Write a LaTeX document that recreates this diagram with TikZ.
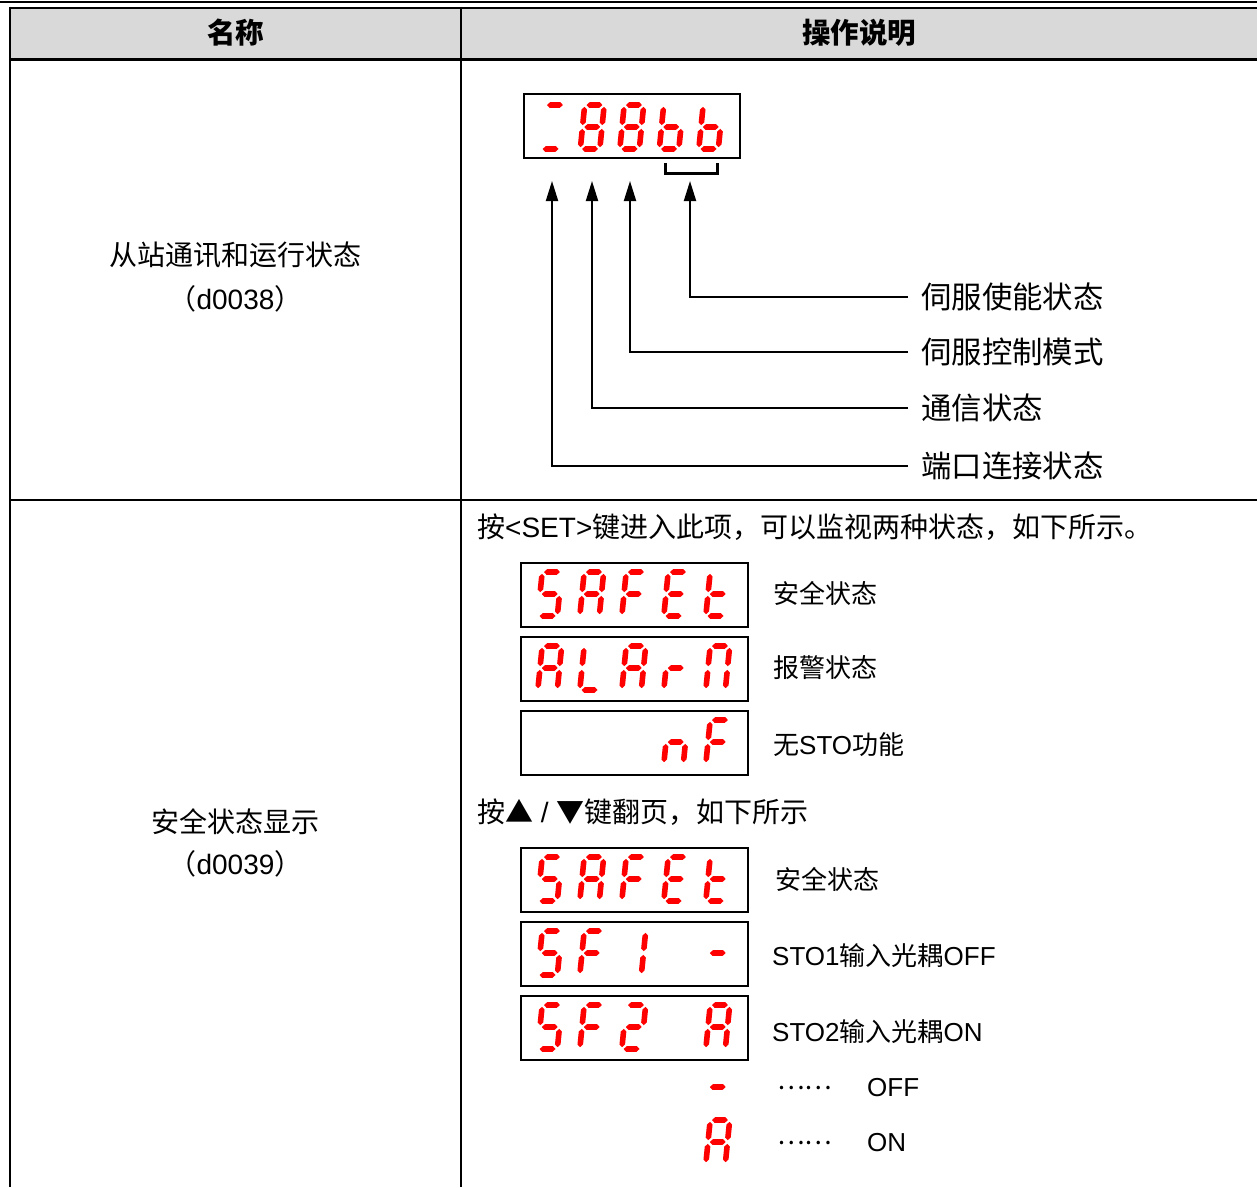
\documentclass[tikz,border=0pt]{standalone}
\usepackage{fontspec}
\setmainfont{Liberation Sans}
\newfontfamily\cjk{Noto Sans CJK SC}
\newfontfamily\lat{Liberation Sans}
\usepackage{tikz}
\usetikzlibrary{arrows.meta}
\definecolor{headgray}{HTML}{D9D9D9}
\newcommand{\segcolor}{red}
\newcommand{\segw}{19.5}
\newcommand{\segh}{22}
\newcommand{\seggap}{1.8}
\newcommand{\segthk}{2.8}
\newcommand{\segslant}{0.1}
\newcommand{\hseg}[3]{\fill[\segcolor] (#1+\seggap,#3) -- (#1+\seggap+\segthk,#3-\segthk) -- (#2-\seggap-\segthk,#3-\segthk) -- (#2-\seggap,#3) -- (#2-\seggap-\segthk,#3+\segthk) -- (#1+\seggap+\segthk,#3+\segthk) -- cycle;}
\newcommand{\vseg}[3]{\fill[\segcolor] (#1,#2+\seggap) -- (#1+\segthk,#2+\seggap+\segthk) -- (#1+\segthk,#3-\seggap-\segthk) -- (#1,#3-\seggap) -- (#1-\segthk,#3-\seggap-\segthk) -- (#1-\segthk,#2+\seggap+\segthk) -- cycle;}
\newcommand{\sega}{\hseg{0}{\segw}{-\segh}}
\newcommand{\segb}{\vseg{\segw}{-\segh}{0}}
\newcommand{\segc}{\vseg{\segw}{0}{\segh}}
\newcommand{\segd}{\hseg{0}{\segw}{\segh}}
\newcommand{\sege}{\vseg{0}{0}{\segh}}
\newcommand{\segf}{\vseg{0}{-\segh}{0}}
\newcommand{\segg}{\hseg{0}{\segw}{0}}
\newcommand{\digit}[3]{\begin{scope}[shift={(#1,#2)},xslant=\segslant]\foreach \s in {#3}{\csname seg\s\endcsname}\end{scope}}
\tikzset{
  headtxt/.style={font=\cjk\bfseries\fontsize{28.5pt}{32pt}\selectfont},
  nametxt/.style={font=\cjk\fontsize{28pt}{32pt}\selectfont},
  stattxt/.style={font=\cjk\fontsize{30.4pt}{34pt}\selectfont, anchor=west, inner xsep=13pt, inner ysep=0pt},
  bodytxt/.style={font=\cjk\fontsize{26pt}{30pt}\selectfont, anchor=west, inner sep=0pt},
  hinttxt/.style={font=\cjk\fontsize{28pt}{32pt}\selectfont, anchor=west, inner sep=0pt},
  disp/.style={draw, line width=2pt, minimum width=227pt, minimum height=64pt, inner sep=0pt},
  arr/.style={line width=2pt, -{Triangle[length=20pt,width=12pt]}},
  bracket/.style={line width=3pt}
}

\begin{document}
\begin{tikzpicture}[x=1pt,y=-1pt]
\useasboundingbox (0,0) rectangle (1257,1187);
%table
\fill[headgray] (10,7.5) rectangle (1257,59.5);
\draw[line width=2.5pt] (0,2) -- (1257,2);
\draw[line width=2pt] (10,7.5) -- (1257,7.5);
\draw[line width=2.5pt] (10,59.5) -- (1257,59.5);
\draw[line width=2pt] (10,500) -- (1257,500);
\draw[line width=2pt] (10,6.5) -- (10,1187);
\draw[line width=2pt] (461,6.5) -- (461,1187);
\node[headtxt] (hname) at (235.5,33) {名称};
\node[headtxt] (hop) at (859,33) {操作说明};
%d0038
\node[nametxt] (name1) at (235.5,255) {从站通讯和运行状态};
\node[nametxt] (code1) at (235.5,299) {（{\lat d0038}）};
\node[disp, minimum width=216pt] (panel) at (632,126) {};
\digit{543}{127}{a,d}
\digit{582.5}{127}{a,b,c,d,e,f,g}
\digit{622}{127}{a,b,c,d,e,f,g}
\digit{661.5}{127}{c,d,e,f,g}
\digit{701}{127}{c,d,e,f,g}
\coordinate (brl) at (665,163);
\coordinate (brr) at (717,163);
\draw[bracket] (brl) -- ++(0,10) -| (brr);
\coordinate (tip1) at (552,181);
\coordinate (tip2) at (592,181);
\coordinate (tip3) at (630,181);
\coordinate (tip4) at (690,181);
\node[stattxt] (stat1) at (908,297) {伺服使能状态};
\node[stattxt] (stat2) at (908,352) {伺服控制模式};
\node[stattxt] (stat3) at (908,408) {通信状态};
\node[stattxt] (stat4) at (908,466) {端口连接状态};
\draw[arr] (stat1.west) -| (tip4);
\draw[arr] (stat2.west) -| (tip3);
\draw[arr] (stat3.west) -| (tip2);
\draw[arr] (stat4.west) -| (tip1);
%d0039
\node[nametxt] (name2) at (235.5,822) {安全状态显示};
\node[nametxt] (code2) at (235.5,864) {（{\lat d0039}）};
\node[hinttxt] (hint1) at (477,527) {按{\lat <SET>}键进入此项，可以监视两种状态，如下所示。};
\node[disp] (safe1) at (634.5,595) {};
\node[disp] (alarm) at (634.5,669) {};
\node[disp] (nosto) at (634.5,743) {};
\digit{540}{594}{a,f,g,c,d}
\digit{582}{594}{a,b,c,e,f,g}
\digit{624}{594}{a,e,f,g}
\digit{666}{594}{a,d,e,f,g}
\digit{708}{594}{d,e,f,g}
\digit{540}{668}{a,b,c,e,f,g}
\digit{582}{668}{d,e,f}
\digit{624}{668}{a,b,c,e,f,g}
\digit{666}{668}{e,g}
\digit{708}{668}{a,b,c,e,f}
\digit{666}{742}{c,e,g}
\digit{708}{742}{a,e,f,g}
\node[bodytxt] (safe1txt) at (773,593) {安全状态};
\node[bodytxt] (alarmtxt) at (773,668) {报警状态};
\node[bodytxt] (nostotxt) at (773,745) {无{\lat STO}功能};
\node[hinttxt] (hint2) at (477,812) {按▲{\lat\ /\ }▼键翻页，如下所示};
\node[disp] (safe2) at (634.5,880) {};
\node[disp] (sfone) at (634.5,954) {};
\node[disp] (sftwo) at (634.5,1028) {};
\digit{540}{879}{a,f,g,c,d}
\digit{582}{879}{a,b,c,e,f,g}
\digit{624}{879}{a,e,f,g}
\digit{666}{879}{a,d,e,f,g}
\digit{708}{879}{d,e,f,g}
\digit{540}{953}{a,f,g,c,d}
\digit{582}{953}{a,e,f,g}
\digit{624}{953}{b,c}
\digit{708}{953}{g}
\digit{540}{1027}{a,f,g,c,d}
\digit{582}{1027}{a,e,f,g}
\digit{624}{1027}{a,b,g,e,d}
\digit{708}{1027}{a,b,c,e,f,g}
\node[bodytxt] (safe2txt) at (775,879) {安全状态};
\node[bodytxt] (sfonetxt) at (772,956) {{\lat STO1}输入光耦{\lat OFF}};
\node[bodytxt] (sftwotxt) at (772,1032) {{\lat STO2}输入光耦{\lat ON}};
%legend
\digit{708}{1087}{g}
\digit{708}{1142}{a,b,c,e,f,g}
\node[bodytxt] (dots1) at (777,1088) {……};
\node[bodytxt] (dots2) at (777,1143) {……};
\node[bodytxt] (offtxt) at (867,1088) {\lat OFF};
\node[bodytxt] (ontxt) at (867,1143) {\lat ON};
\end{tikzpicture}
\end{document}
